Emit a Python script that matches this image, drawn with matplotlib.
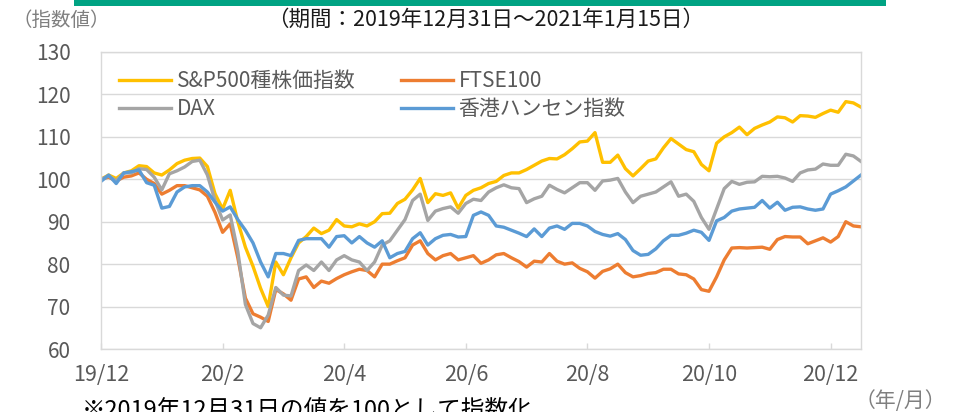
import numpy as np
import matplotlib
matplotlib.use("Agg")
import matplotlib.pyplot as plt
from matplotlib.patches import Rectangle

plt.rcParams["font.family"] = ["Noto Sans CJK JP", "DejaVu Sans"]

# x軸：2019/12/31 を 0 とした月数（1/8ヶ月刻み）
months = np.linspace(0, 12.5, 101)
tick_pos = [0, 2, 4, 6, 8, 10, 12]
tick_labels = ["19/12", "20/2", "20/4", "20/6", "20/8", "20/10", "20/12"]

sp500 = [100, 101, 100.2, 101.5, 102, 103.2, 103, 101.5, 101, 102.2, 103.7, 104.5, 104.9, 105, 103, 96.6,
         93, 97.4, 90, 84, 79.5, 74.3, 70, 80.5, 77.5, 81.5, 85, 86.5, 88.5, 87.2, 88, 90.5, 89,
         88.8, 89.5, 89, 90, 91.9, 92, 94.3, 95.3, 97.5, 100.2, 94.5, 96.6, 96.2, 96.8, 93.2, 96.2, 97.4, 98,
         99, 99.5, 100.9, 101.5, 101.5, 102.3, 103.3, 104.3, 104.9, 104.8, 105.8, 107.2, 108.8, 109, 111, 104,
         104, 105.7, 102.5, 100.8, 102.5, 104.3, 104.8, 107.4, 109.6, 108.3, 107, 106.5, 103.5, 102, 108.5, 110, 111,
         112.3, 110.5, 112, 112.8, 113.5, 114.7, 114.5, 113.5, 115, 114.9, 114.6, 115.5, 116.3, 115.8, 118.3, 118, 117]
ftse100 = [100, 100.5, 99.6, 100.5, 100.8, 101.5, 100, 99, 96.5, 97.4, 98.5, 98.5, 98, 97.5, 96, 92.2,
           87.5, 89.5, 81.5, 72, 68.3, 67.5, 66.5, 74, 73, 71.5, 76.5, 77, 74.5, 76, 75.5, 76.6, 77.5,
           78.2, 78.8, 78.5, 77, 80, 80, 80.8, 81.5, 84.5, 85.5, 82.5, 81, 82, 82.5, 81, 81.5, 82, 80.2,
           81, 82.2, 82.5, 81.5, 80.6, 79.3, 80.7, 80.5, 82.5, 80.7, 80, 80.3, 79, 78.2, 76.7, 78.3,
           78.9, 80, 78, 77, 77.3, 77.8, 78, 78.8, 78.8, 77.7, 77.5, 76.5, 74, 73.6, 77, 81, 83.8,
           83.9, 83.8, 83.9, 84, 83.5, 85.8, 86.5, 86.4, 86.4, 84.8, 85.5, 86.2, 85.2, 86.5, 90, 89, 88.8]
dax = [100, 100.8, 99.6, 101.5, 101.5, 102.5, 102.3, 100.5, 97.5, 101.3, 102, 102.9, 104.2, 104.5, 101, 95,
       90.4, 91.6, 83, 70.5, 66, 65, 68, 74.5, 72.7, 72.5, 78.5, 79.8, 78.5, 80.5, 78.5, 81, 82,
       81, 80.5, 78.5, 80.5, 84.5, 85.5, 88, 90.5, 95, 96.5, 90.3, 92.5, 93.1, 93.5, 92, 94.3, 95.3, 95,
       97, 98, 98.7, 98, 97.8, 94.5, 95.4, 96, 98.6, 97.6, 96.8, 98, 99.2, 99.2, 97.4, 99.6,
       99.8, 100.2, 97, 94.5, 96, 96.5, 97, 98.2, 99.4, 96, 96.5, 94.8, 91, 88.2, 93, 97.8, 99.5,
       98.8, 99.3, 99.4, 100.7, 100.6, 100.7, 100.3, 99.5, 101.5, 102.2, 102.4, 103.6, 103.3, 103.3, 105.9, 105.5, 104.2]
hsi = [99.5, 101, 99, 101.5, 101.8, 102.2, 99.2, 98.6, 93.2, 93.6, 97, 98.2, 98.5, 98.5, 97, 94.6,
       92.5, 93.5, 90.5, 88, 85, 80.5, 77, 82.5, 82.5, 82, 85.6, 86, 86, 86, 84, 86.5, 86.7,
       85, 86.5, 85, 84, 85.5, 81.5, 82.5, 83, 86, 87.4, 84.5, 86, 86.8, 87, 86.4, 86.5, 91.5, 92.3,
       91.5, 89, 88.7, 88, 87.3, 86.5, 88.3, 86.5, 88.5, 89, 88.2, 89.6, 89.6, 89, 87.7, 87,
       86.6, 87.2, 85.8, 83.2, 82.1, 82.3, 83.6, 85.5, 86.8, 86.8, 87.3, 88, 87.5, 85.6, 90.2, 91, 92.5,
       93, 93.2, 93.4, 95, 93.2, 94.6, 92.7, 93.4, 93.5, 93, 92.7, 93, 96.5, 97.3, 98.2, 99.6, 101]

names = ["S&P500種株価指数", "FTSE100", "DAX", "香港ハンセン指数"]
colors = ["#FFC000", "#ED7D31", "#A5A5A5", "#5B9BD5"]
grid_c = "#d9d9d9"

fig = plt.figure(figsize=(9.59, 4.12), dpi=100)
ax = fig.add_axes([101 / 959, 1 - 349 / 412, 760 / 959, 297 / 412])

lines = []
for vals, name, c in zip([sp500, ftse100, dax, hsi], names, colors):
    ln, = ax.plot(months, vals, color=c, lw=2.4, label=name, solid_joinstyle="round")
    lines.append(ln)

ax.set_xlim(0, 12.5)
ax.set_ylim(60, 130)
ax.set_yticks(range(60, 131, 10))
ax.set_xticks(tick_pos)
ax.set_xticklabels(tick_labels)
ax.grid(axis="y", color=grid_c, lw=1.0)
ax.set_axisbelow(True)
for s in ax.spines.values():
    s.set_color(grid_c)
    s.set_linewidth(1.0)
ax.tick_params(axis="y", length=0, pad=22, labelsize=15, labelcolor="#595959")
ax.tick_params(axis="x", direction="in", length=4.5, color=grid_c, width=1.0,
               pad=11, labelsize=15.5, labelcolor="#595959")

# 凡例（2列）
order = [0, 2, 1, 3]
ax.legend([lines[i] for i in order], [names[i] for i in order], ncol=2,
          loc="upper left", bbox_to_anchor=(0.024, 0.94), frameon=False,
          fontsize=15, handlelength=2.5, handletextpad=0.25, columnspacing=2.2,
          labelspacing=0.3, borderpad=0, borderaxespad=0, labelcolor="#595959")

# 上部の緑帯と文字
fig.add_artist(Rectangle((74 / 959, 1 - 6 / 412), 812 / 959, 6 / 412,
                         transform=fig.transFigure, color="#00a383", lw=0))
fig.text(486 / 959, 1 - 20 / 412, "（期間：2019年12月31日～2021年1月15日）",
         ha="center", va="center", fontsize=15.5, color="#1a1a1a")
fig.text(12 / 959, 1 - 20 / 412, "（指数値）", ha="left", va="center",
         fontsize=14, color="#7f7f7f")
fig.text(82 / 959, 1 - 400 / 412, "※2019年12月31日の値を100として指数化",
         ha="left", va="top", fontsize=17, color="black")
fig.text(946 / 959, 1 - 401 / 412, "（年/月）", ha="right", va="center",
         fontsize=15, color="#7f7f7f")

fig.savefig("out.png", dpi=100)
